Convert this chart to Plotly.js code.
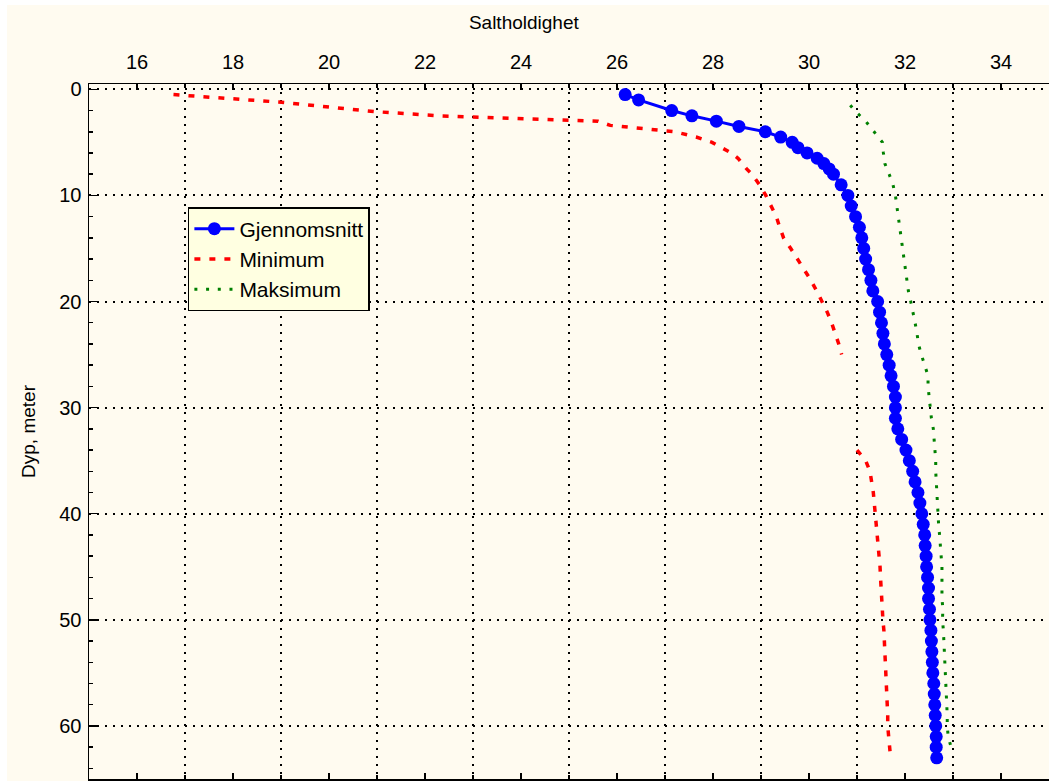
<!DOCTYPE html>
<html>
<head>
<meta charset="utf-8">
<script src="https://cdn.plot.ly/plotly-3.0.1.min.js"></script>
<style>
  html, body { margin: 0; padding: 0; background: #ffffff; }
  #chart { position: absolute; left: 7px; top: 5px; width: 1042px; height: 776px; }
</style>
</head>
<body>
<div id="chart"></div>
<script>
// Gjennomsnitt (mean)
const meanDepth = [0.5, 1, 2, 2.5, 3, 3.5, 4, 4.5, 5, 5.5, 6, 6.5, 7, 7.5, 8, 9, 10, 11, 12, 13, 14, 15, 16, 17, 18, 19, 20, 21, 22, 23, 24, 25, 26, 27, 28, 29, 30, 31, 32, 33, 34, 35, 36, 37, 38, 39, 40, 41, 42, 43, 44, 45, 46, 47, 48, 49, 50, 51, 52, 53, 54, 55, 56, 57, 58, 59, 60, 61, 62, 63];
const meanSal = [26.17, 26.45, 27.14, 27.56, 28.07, 28.54, 29.09, 29.41, 29.65, 29.77, 29.96, 30.17, 30.31, 30.42, 30.51, 30.67, 30.81, 30.88, 30.97, 31.05, 31.10, 31.14, 31.18, 31.24, 31.29, 31.33, 31.43, 31.47, 31.51, 31.54, 31.57, 31.62, 31.67, 31.71, 31.76, 31.80, 31.80, 31.80, 31.85, 31.93, 32.02, 32.09, 32.16, 32.21, 32.27, 32.31, 32.35, 32.38, 32.41, 32.42, 32.44, 32.45, 32.47, 32.49, 32.49, 32.51, 32.52, 32.54, 32.55, 32.56, 32.57, 32.58, 32.60, 32.61, 32.62, 32.63, 32.64, 32.65, 32.65, 32.66];

// Minimum
const minDepth = [0.5, 1.2, 2.1, 2.5, 3, 3.4, 4, 4.5, 5, 5.5, 6, 6.5, 7, 7.5, 8, 9, 10, 11, 12, 13, 14, 15, 16, 17, 18, 19, 20, 21, 22, 23, 24, 25, 26, 34, 35, 36, 37, 38, 39, 40, 41, 42, 43, 44, 45, 46, 47, 48, 49, 50, 51, 52, 53, 54, 55, 56, 57, 58, 59, 60, 61, 62, 63];
const minSal = [16.76, 18.95, 20.95, 22.30, 25.60, 25.86, 27.20, 27.65, 27.98, 28.20, 28.38, 28.52, 28.60, 28.70, 28.81, 28.97, 29.10, 29.22, 29.32, 29.39, 29.47, 29.62, 29.76, 29.91, 30.04, 30.16, 30.28, 30.38, 30.47, 30.55, 30.62, 30.68, null, 31.00, 31.18, 31.27, 31.31, 31.34, 31.36, 31.38, 31.40, 31.43, 31.45, 31.47, 31.48, 31.49, 31.50, 31.51, 31.52, 31.54, 31.56, 31.57, 31.59, 31.60, 31.61, 31.61, 31.62, 31.63, 31.64, 31.64, 31.66, 31.69, 31.70];

// Maksimum
const maxDepth = [1.5, 2, 3, 4, 5, 6, 7, 8, 9, 10, 11, 12, 13, 14, 15, 16, 17, 18, 19, 20, 21, 22, 23, 24, 25, 26, 27, 28, 29, 30, 31, 32, 33, 34, 35, 36, 37, 38, 39, 40, 41, 42, 43, 44, 45, 46, 47, 48, 49, 50, 51, 52, 53, 54, 55, 56, 57, 58, 59, 60, 61, 62];
const maxSal = [30.86, 30.95, 31.18, 31.36, 31.53, 31.55, 31.58, 31.67, 31.75, 31.80, 31.83, 31.86, 31.89, 31.92, 31.95, 31.98, 32.02, 32.04, 32.07, 32.12, 32.17, 32.21, 32.25, 32.28, 32.34, 32.41, 32.48, 32.48, 32.50, 32.53, 32.55, 32.59, 32.61, 32.63, 32.64, 32.64, 32.65, 32.66, 32.67, 32.68, 32.70, 32.72, 32.74, 32.75, 32.77, 32.77, 32.77, 32.77, 32.79, 32.78, 32.80, 32.81, 32.82, 32.83, 32.84, 32.86, 32.87, 32.87, 32.88, 32.88, 32.90, 32.96];

const xMajorTicks = [16, 18, 20, 22, 24, 26, 28, 30, 32, 34];
const xGridTicks = [17, 19, 21, 23, 25, 27, 29, 31, 33];
const yTicks = [0, 10, 20, 30, 40, 50, 60];

const seriesNames = ['Gjennomsnitt', 'Minimum', 'Maksimum'];

const FONT = 'Arial, "Liberation Sans", sans-serif';
const BG = '#fffbf0';

const traces = [
  {
    x: meanSal, y: meanDepth, name: seriesNames[0], type: 'scatter', mode: 'lines+markers',
    line: { color: '#0000ff', width: 3 },
    marker: { color: '#0000ff', size: 13 }
  },
  {
    x: minSal, y: minDepth, name: seriesNames[1], type: 'scatter', mode: 'lines',
    connectgaps: false,
    line: { color: '#ff0000', width: 3.5, dash: '6px,9px' }
  },
  {
    x: maxSal, y: maxDepth, name: seriesNames[2], type: 'scatter', mode: 'lines',
    line: { color: '#008000', width: 3, dash: '3px,8.7px' }
  }
];

const layout = {
  width: 1042, height: 776,
  margin: { l: 82, r: 0, t: 79, b: 2 },
  paper_bgcolor: BG, plot_bgcolor: BG,
  font: { family: FONT, color: '#000000', size: 20 },
  showlegend: true,
  title: {
    text: 'Saltholdighet', font: { family: FONT, size: 19, color: '#000' },
    xref: 'container', x: 0.496, xanchor: 'center',
    yref: 'container', y: 0.978, yanchor: 'middle'
  },
  xaxis: {
    side: 'top', range: [15, 35],
    tickmode: 'array', tickvals: xMajorTicks,
    ticks: 'inside', ticklen: 6, tickwidth: 1.5, tickcolor: '#000',
    ticklabelstandoff: 6,
    showline: true, linecolor: '#000', linewidth: 1.5, mirror: 'ticks',
    showgrid: false, zeroline: false,
    tickfont: { family: FONT, size: 20, color: '#000' },
    minor: {
      tickmode: 'array', tickvals: xGridTicks,
      ticks: 'inside', ticklen: 4, tickwidth: 1.5, tickcolor: '#000',
      showgrid: true, gridcolor: '#000', gridwidth: 2, griddash: '2px,6px'
    }
  },
  yaxis: {
    range: [65, -0.5],
    tickmode: 'array', tickvals: yTicks,
    ticks: 'inside', ticklen: 8, tickwidth: 1.5, tickcolor: '#000',
    ticklabelstandoff: 2,
    showline: true, linecolor: '#000', linewidth: 1.5,
    showgrid: true, gridcolor: '#000', gridwidth: 2, griddash: '2px,6px',
    zeroline: false,
    tickfont: { family: FONT, size: 20, color: '#000' },
    title: { text: 'Dyp, meter', font: { family: FONT, size: 19, color: '#000' }, standoff: 18 },
    minor: { dtick: 2, tick0: 0, ticks: 'inside', ticklen: 4, tickwidth: 1.5, tickcolor: '#000', showgrid: false }
  },
  legend: {
    x: 0.103, xanchor: 'left', y: 0.823, yanchor: 'top',
    bgcolor: '#ffffe1', bordercolor: '#000', borderwidth: 1.5,
    font: { family: FONT, size: 21, color: '#000' },
    itemwidth: 40,
    tracegroupgap: 0
  }
};

Plotly.newPlot('chart', traces, layout, { displayModeBar: false, staticPlot: true });
</script>
</body>
</html>
